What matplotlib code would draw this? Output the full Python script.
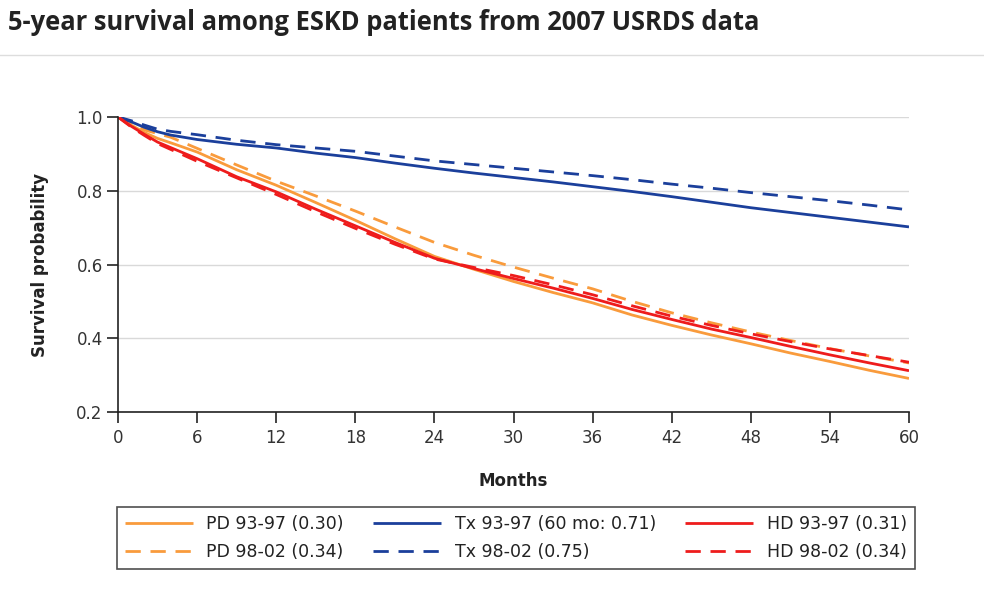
import matplotlib
matplotlib.use('Agg')
import matplotlib.pyplot as plt
from matplotlib.lines import Line2D

months = [0, 1, 2, 3, 4, 6, 9, 12, 15, 18, 21, 24, 27, 30, 33, 36, 39, 42, 45, 48, 51, 54, 57, 60]

pd_93 = [1.0, 0.978, 0.958, 0.942, 0.930, 0.905, 0.857, 0.815, 0.768, 0.720, 0.670, 0.622,
         0.587, 0.554, 0.524, 0.496, 0.463, 0.435, 0.409, 0.385, 0.360, 0.337, 0.313, 0.291]
pd_98 = [1.0, 0.982, 0.965, 0.955, 0.945, 0.915, 0.870, 0.826, 0.786, 0.745, 0.702, 0.660,
         0.625, 0.593, 0.563, 0.534, 0.500, 0.469, 0.442, 0.417, 0.394, 0.372, 0.352, 0.333]
tx_93 = [1.0, 0.987, 0.972, 0.960, 0.951, 0.939, 0.926, 0.916, 0.902, 0.890, 0.875, 0.861,
         0.848, 0.836, 0.824, 0.811, 0.798, 0.784, 0.769, 0.754, 0.741, 0.728, 0.715, 0.702]
tx_98 = [1.0, 0.990, 0.978, 0.967, 0.961, 0.952, 0.937, 0.925, 0.916, 0.907, 0.894, 0.881,
         0.871, 0.861, 0.851, 0.841, 0.830, 0.818, 0.807, 0.795, 0.784, 0.773, 0.761, 0.748]
hd_93 = [1.0, 0.975, 0.953, 0.932, 0.917, 0.887, 0.838, 0.797, 0.750, 0.705, 0.660, 0.617,
         0.589, 0.562, 0.536, 0.508, 0.478, 0.451, 0.425, 0.402, 0.378, 0.355, 0.333, 0.312]
hd_98 = [1.0, 0.973, 0.950, 0.928, 0.912, 0.880, 0.835, 0.790, 0.743, 0.698, 0.655, 0.615,
         0.592, 0.570, 0.545, 0.518, 0.488, 0.460, 0.435, 0.412, 0.391, 0.371, 0.353, 0.335]

labels = ['PD 93-97 (0.30)', 'PD 98-02 (0.34)', 'Tx 93-97 (60 mo: 0.71)',
          'Tx 98-02 (0.75)', 'HD 93-97 (0.31)', 'HD 98-02 (0.34)']

ORANGE = '#F99B3C'
BLUE = '#1B3F9B'
RED = '#EE1C1C'
DASH = (5.5, 3.5)
FONT = 'DejaVu Sans'

plt.rcParams['font.family'] = [FONT]

fig = plt.figure(figsize=(9.84, 6.13), dpi=100)
ax = fig.add_axes([118/984, 1 - 412/613, (909-118)/984, (412-117)/613])

series = [(pd_93, ORANGE, '-'), (pd_98, ORANGE, '--'),
          (tx_93, BLUE, '-'), (tx_98, BLUE, '--'),
          (hd_93, RED, '-'), (hd_98, RED, '--')]
handles = []
for (vals, col, ls), lab in zip(series, labels):
    kw = dict(color=col, lw=2.0, solid_capstyle='butt', dash_capstyle='butt')
    if ls == '--':
        kw['dashes'] = DASH
    ln, = ax.plot(months, vals, label=lab, **kw)
    handles.append(ln)

ax.set_xlim(0, 60)
ax.set_ylim(0.2, 1.0)
ax.set_xticks(range(0, 61, 6))
ax.set_yticks([0.2, 0.4, 0.6, 0.8, 1.0])
ax.set_yticklabels(['0.2', '0.4', '0.6', '0.8', '1.0'])
ax.yaxis.grid(True, color='#d9d9d9', lw=1)
ax.set_axisbelow(True)
for s in ['top', 'right']:
    ax.spines[s].set_visible(False)
for s in ['left', 'bottom']:
    ax.spines[s].set_color('#222222')
    ax.spines[s].set_linewidth(1.2)
ax.tick_params(axis='both', direction='out', length=8, width=1.2, color='#222222',
               labelsize=12, labelcolor='#333333', pad=3)
ax.tick_params(axis='x', pad=4)
ax.set_xlabel('Months', fontsize=12, fontweight='bold', color='#222222', labelpad=18)
ax.set_ylabel('Survival probability', fontsize=12, fontweight='bold', color='#222222',
              labelpad=20)

leg = fig.legend(handles=handles, labels=labels, ncol=3, loc='center',
                 bbox_to_anchor=(117/984, 1 - 571/613, (915-117)/984, 66/613),
                 mode='expand', prop={'size': 12.5}, frameon=True,
                 fancybox=False, handlelength=3.9, handletextpad=0.8, columnspacing=1.2,
                 borderaxespad=0, labelspacing=0.6, borderpad=0.45)
leg.get_frame().set_edgecolor('#222222')
leg.get_frame().set_linewidth(1.2)
for t in leg.get_texts():
    t.set_color('#222222')

fig.text(8/984, 1 - 23/613, '5-year survival among ESKD patients from 2007 USRDS data',
         fontsize=18.4, fontweight='bold', family='Open Sans', color='#222222',
         va='center', ha='left')
fig.add_artist(Line2D([0, 1], [1 - 55/613, 1 - 55/613], color='#dddddd', lw=1))

fig.savefig('out.png', dpi=100)
